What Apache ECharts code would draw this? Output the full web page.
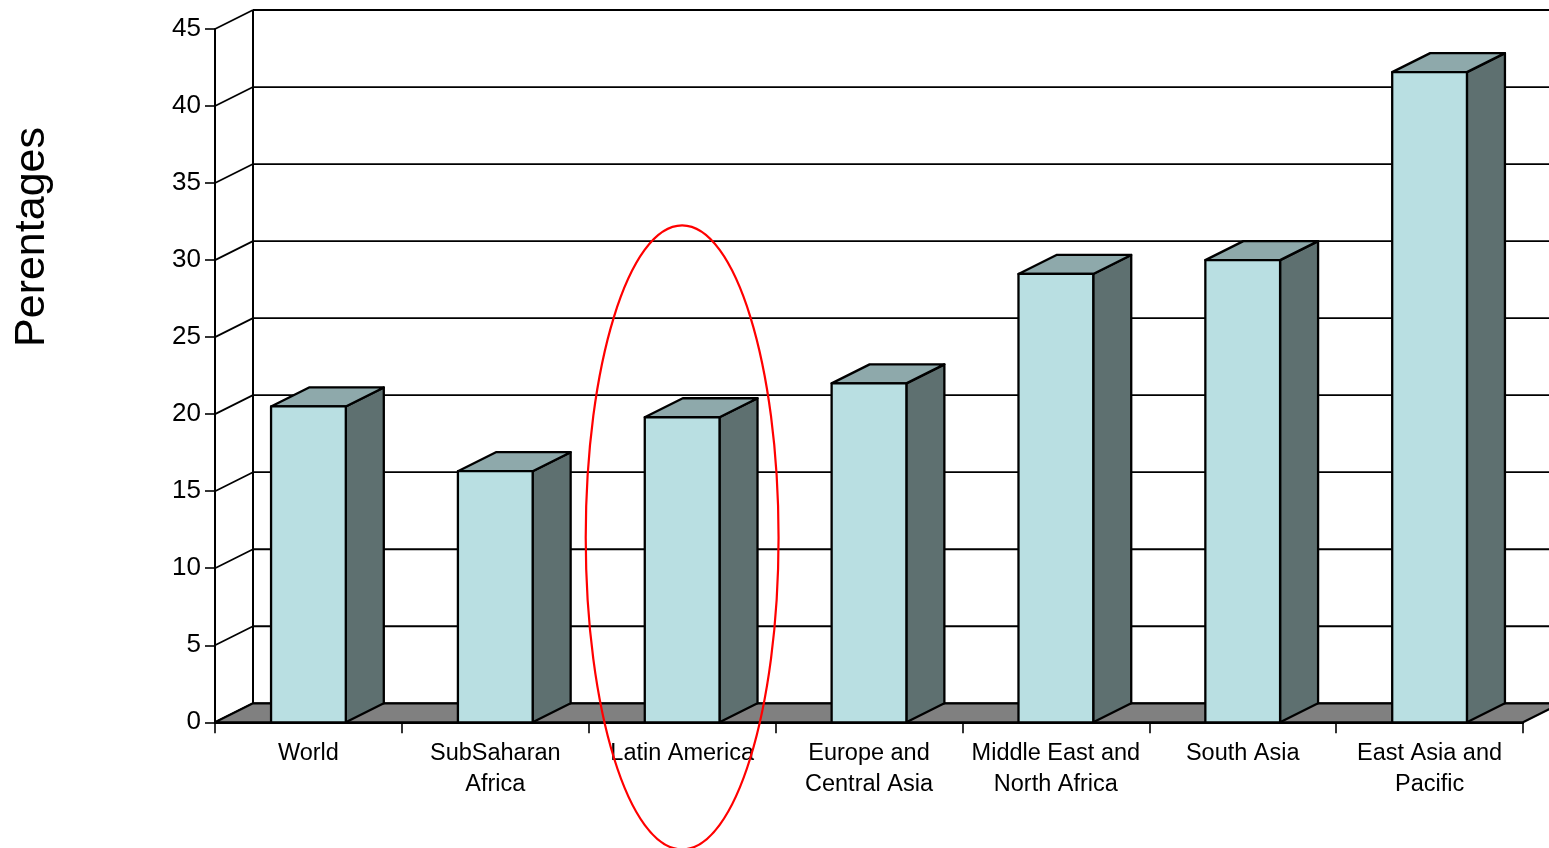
<!DOCTYPE html>
<html>
<head>
<meta charset="utf-8">
<script src="https://cdn.jsdelivr.net/npm/echarts@6/dist/echarts.min.js"></script>
<style>
html,body{margin:0;padding:0;background:#fff;}
#chart{width:1549px;height:848px;}
</style>
</head>
<body>
<div id="chart"></div>
<script>
// ---- data ----
const categories = ['World', 'SubSaharan\nAfrica', 'Latin America', 'Europe and\nCentral Asia', 'Middle East and\nNorth Africa', 'South Asia', 'East Asia and\nPacific'];
const values = [20.5, 16.3, 19.8, 22.0, 29.1, 30.0, 42.2];
const yTicks = [0, 5, 10, 15, 20, 25, 30, 35, 40, 45];
const yTitle = 'Perentages';
const highlightCategory = 2; // Latin America

// ---- style ----
const DX = 38, DY = 19;          // 3D depth offset in pixels
const BAR_FRAC = 0.40;
const FRONT = '#B9DFE2', TOP = '#8EA9AB', SIDE = '#5E7070', FLOOR = '#808080';
const FONT = '"Liberation Sans", Arial, sans-serif';

const chart = echarts.init(document.getElementById('chart'), null, {renderer: 'canvas'});

const barData = categories.map((c, i) => [i, values[i]]);

const option = {
  animation: false,
  backgroundColor: '#fff',
  grid: {left: 215, right: 26, top: 29, bottom: 125.7, containLabel: false},
  xAxis: {
    type: 'category',
    data: categories,
    boundaryGap: true,
    axisLine: {show: true, lineStyle: {color: '#000', width: 2}},
    axisTick: {show: true, interval: 0, length: 11, alignWithLabel: false, lineStyle: {color: '#000', width: 1.6}},
    axisLabel: {interval: 0, color: '#000', fontSize: 23.5, lineHeight: 31, fontFamily: FONT, margin: 16},
    splitLine: {show: false}
  },
  yAxis: {
    type: 'value',
    min: 0, max: 45, interval: 5,
    axisLine: {show: true, lineStyle: {color: '#000', width: 2}},
    axisTick: {show: true, length: 10, inside: false, lineStyle: {color: '#000', width: 1.6}},
    axisLabel: {color: '#000', fontSize: 26, fontFamily: FONT, margin: 14, padding: [3, 0, 0, 0]},
    splitLine: {show: false}
  },
  graphic: [{
    type: 'text',
    x: 32, y: 237,
    rotation: Math.PI / 2,
    style: {text: yTitle, font: '43px ' + FONT, fill: '#000', textAlign: 'center', textVerticalAlign: 'middle'}
  }],
  series: [
    { // walls: back grid lines + left wall diagonals
      type: 'custom',
      z: 1,
      clip: false,
      silent: true,
      data: yTicks.map(v => [0, v]),
      encode: {x: 0, y: 1},
      renderItem: function (params, api) {
        const cs = params.coordSys;
        const v = api.value(1);
        const p = api.coord([0, v]);
        const y = p[1];
        const children = [
          {type: 'line', shape: {x1: cs.x + DX, y1: y - DY, x2: cs.x + cs.width + DX, y2: y - DY}, style: {stroke: '#000', lineWidth: v === 45 ? 2.2 : 1.8}},
          {type: 'line', shape: {x1: cs.x, y1: y, x2: cs.x + DX, y2: y - DY}, style: {stroke: '#000', lineWidth: 1.8}}
        ];
        if (params.dataIndex === 0) {
          children.push({type: 'line', shape: {x1: cs.x + DX, y1: cs.y + cs.height - DY, x2: cs.x + DX, y2: cs.y - DY}, style: {stroke: '#000', lineWidth: 2}});
        }
        return {type: 'group', children: children};
      }
    },
    { // floor
      type: 'custom',
      z: 2,
      clip: false,
      silent: true,
      data: [[0, 0]],
      encode: {x: 0, y: 1},
      renderItem: function (params, api) {
        const cs = params.coordSys;
        const y0 = api.coord([0, 0])[1];
        const x0 = cs.x, x1 = cs.x + cs.width;
        return {
          type: 'polygon',
          shape: {points: [[x0, y0], [x1, y0], [x1 + DX, y0 - DY], [x0 + DX, y0 - DY]]},
          style: {fill: FLOOR, stroke: '#000', lineWidth: 2.2, lineJoin: 'bevel'}
        };
      }
    },
    { // 3D bars
      type: 'custom',
      z: 3,
      clip: false,
      data: barData,
      encode: {x: 0, y: 1},
      renderItem: function (params, api) {
        const cat = api.value(0), v = api.value(1);
        const base = api.coord([cat, 0]);
        const top = api.coord([cat, v]);
        const w = api.size([1, 0])[0] * BAR_FRAC;
        const x0 = base[0] - w / 2, x1 = base[0] + w / 2;
        const yb = base[1], yt = top[1];
        const st = {stroke: '#000', lineWidth: 2.3, lineJoin: 'round'};
        return {type: 'group', children: [
          {type: 'polygon', shape: {points: [[x1, yt], [x1 + DX, yt - DY], [x1 + DX, yb - DY], [x1, yb]]}, style: Object.assign({fill: SIDE}, st)},
          {type: 'polygon', shape: {points: [[x0, yt], [x0 + DX, yt - DY], [x1 + DX, yt - DY], [x1, yt]]}, style: Object.assign({fill: TOP}, st)},
          {type: 'rect', shape: {x: x0, y: yt, width: w, height: yb - yt}, style: Object.assign({fill: FRONT}, st)}
        ]};
      }
    },
    { // red ellipse highlight
      type: 'custom',
      z: 10,
      clip: false,
      silent: true,
      data: [[highlightCategory, 12]],
      encode: {x: 0, y: 1},
      renderItem: function (params, api) {
        const c = api.coord([api.value(0), api.value(1)]);
        const rx = api.size([1, 0])[0] * 0.516;
        const ry = api.size([0, 20.25])[1];
        return {
          type: 'ellipse',
          shape: {cx: c[0], cy: c[1], rx: rx, ry: ry},
          style: {fill: 'none', stroke: '#FF0000', lineWidth: 2.2}
        };
      }
    }
  ]
};
chart.setOption(option);
</script>
</body>
</html>
